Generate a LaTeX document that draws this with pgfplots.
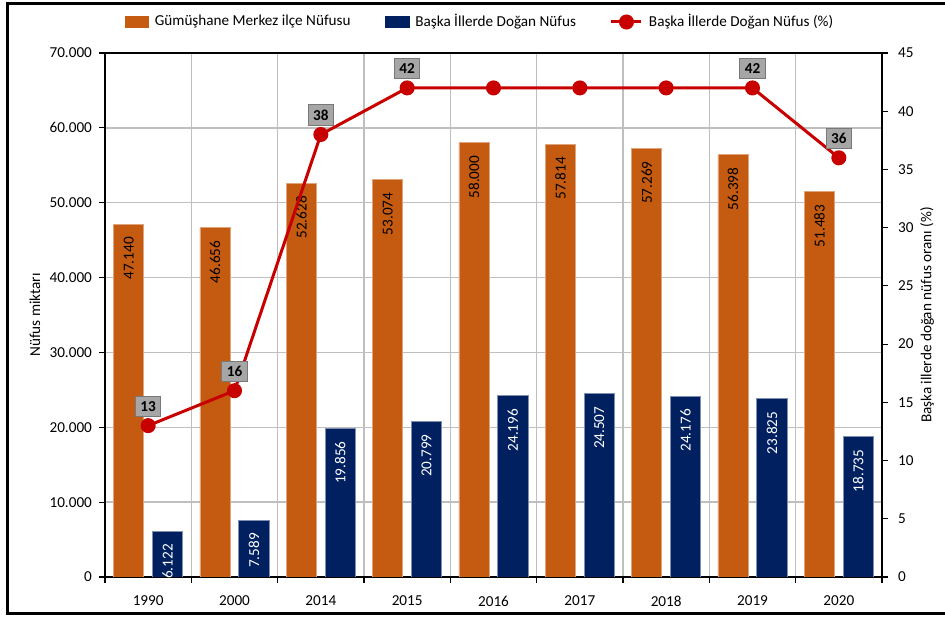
\documentclass[border=0pt]{standalone}
\usepackage{fontspec}
\setmainfont{Carlito}
\usepackage{pgfplots}
\usepackage{pgfplotstable}
\pgfplotsset{compat=1.18}
\pgfplotsset{/pgf/number format/assume math mode=true}
\pgfplotsset{mylineleg/.style={legend image code/.code={\draw[##1, mark repeat=2, mark phase=2] plot coordinates {(0pt,0pt) (7.5pt,0pt) (15pt,0pt)};}}}
\definecolor{orangec}{RGB}{197,90,17}
\definecolor{navyc}{RGB}{0,32,96}
\definecolor{redc}{RGB}{200,0,0}
\definecolor{gridc}{RGB}{191,191,191}
\definecolor{boxc}{RGB}{166,166,166}
\definecolor{boxd}{RGB}{120,120,120}

\pgfplotstableread{
x pop born pct
0 47140 6122 13
1 46656 7589 16
2 52628 19856 38
3 53074 20799 42
4 58000 24196 42
5 57814 24507 42
6 57269 24176 42
7 56398 23825 42
8 51483 18735 36
}\data

\begin{document}
\begin{tikzpicture}[font=\fontsize{7.6pt}{9pt}\selectfont]
\useasboundingbox (-52.5pt,-21pt) rectangle (420pt,288.5pt);
\draw[line width=1.5pt] (430pt,286.5pt) -- (-48.5pt,286.5pt) -- (-48.5pt,-18.5pt) -- (430pt,-18.5pt);
\begin{axis}[
  at={(0,0)}, anchor=south west,
  scale only axis, width=388.5pt, height=262pt,
  xmin=-0.5, xmax=8.5, ymin=0, ymax=70000,
  ytick={0,10000,...,70000}, scaled y ticks=false,
  /pgf/number format/.cd, fixed, 1000 sep={.}, /pgfplots/.cd,
  ymajorgrids, xminorgrids,
  grid style={gridc, line width=0.7pt},
  major grid style={gridc, line width=0.7pt},
  minor grid style={gridc, line width=0.7pt},
  xtick={0,...,8},
  xticklabels={1990,2000,2014,2015,2016,2017,2018,2019,2020},
  minor xtick={-0.5,0.5,...,8.5},
  major x tick style={draw=none},
  tick align=outside, tick pos=left,
  major tick length=3pt, minor tick length=3pt,
  tick style={black, line width=0.6pt},
  axis line style={line width=0.6pt, black},
  ylabel={Nüfus miktarı},
  ylabel style={at={(axis description cs:-0.0901,0.5)}, anchor=center},
  xticklabel style={yshift=-3pt},
  ybar, bar width=0.35,
]
\addplot[fill=orangec, draw=orangec!55!white, line width=0.4pt, bar shift=-0.225,
  nodes near coords,
  every node near coord/.append style={rotate=90, anchor=east, text=black, xshift=-3pt, font=\fontsize{7.6pt}{9pt}\selectfont}]
  table[x=x,y=pop]{\data};
\addplot[fill=navyc, draw=navyc!50!white, line width=0.4pt, bar shift=0.225,
  nodes near coords,
  every node near coord/.append style={rotate=90, anchor=east, text=white, xshift=-3pt, font=\fontsize{7.6pt}{9pt}\selectfont}]
  table[x=x,y=born]{\data};
\end{axis}
\begin{axis}[
  at={(0,0)}, anchor=south west,
  scale only axis, width=388.5pt, height=262pt,
  xmin=-0.5, xmax=8.5, ymin=0, ymax=45,
  axis y line*=right, axis x line=none,
  ytick={0,5,...,45},
  tick align=outside, major tick length=3pt,
  tick style={black, line width=0.6pt},
  axis line style={line width=0.6pt, black},
  ylabel={Başka illerde doğan nüfus oranı (\%)},
  ylabel style={at={(axis description cs:1.058,0.5)}, anchor=center},
  yticklabel style={xshift=1.5pt},
  legend columns=3,
  legend style={at={(0.484,1)}, anchor=center, yshift=15.5pt, draw=none, fill=none,
    font=\fontsize{7.6pt}{9pt}\selectfont,
    /tikz/every even column/.append style={column sep=15pt},
    /tikz/every odd column/.append style={column sep=1pt}},
]
\addlegendimage{legend image code/.code={\fill[orangec] (0pt,-2.6pt) rectangle (11.5pt,2.6pt);}}
\addlegendentry{Gümüşhane Merkez ilçe Nüfusu}
\addlegendimage{legend image code/.code={\fill[navyc] (0pt,-2.6pt) rectangle (12pt,2.6pt);}}
\addlegendentry{Başka İllerde Doğan Nüfus}
\addplot[redc, line width=1.5pt, mark=*, mark size=3pt, mark options={fill=redc, draw=redc}, mylineleg]
  table[x=x,y=pct]{\data};
\addlegendentry{Başka İllerde Doğan Nüfus (\%)}
\addplot[draw=none, mark=none, forget plot, nodes near coords,
  every node near coord/.append style={fill=boxc, draw=boxd, line width=0.5pt, text=black,
    font=\fontsize{7.6pt}{9pt}\selectfont\bfseries, inner sep=2.4pt, anchor=south, yshift=4.5pt}]
  coordinates {(0,13) (1,16) (2,38) (3,42) (7,42) (8,36)};
\end{axis}
\end{tikzpicture}
\end{document}
